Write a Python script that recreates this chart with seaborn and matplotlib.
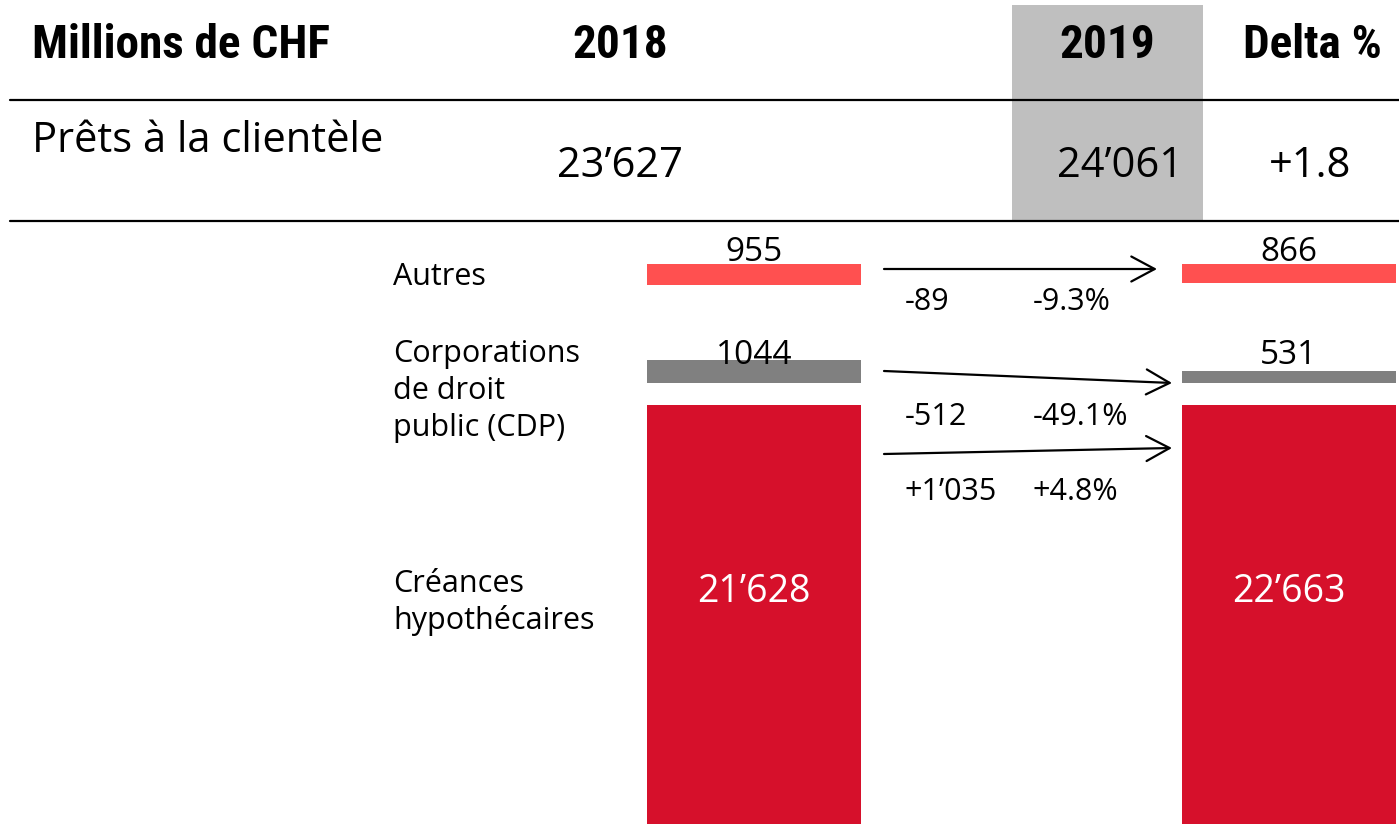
import matplotlib
matplotlib.use("Agg")
import matplotlib.pyplot as plt
import matplotlib.patches as mpatches
from matplotlib.lines import Line2D
import pandas as pd
import seaborn as sns

# --- DATA ---
years = ["2018", "2019"]
total_loans = [23627, 24061]
total_delta_pct = 1.8
segment_labels = ["Autres", "Corporations\nde droit\npublic (CDP)", "Créances\nhypothécaires"]
autres = [955, 866]
cdp = [1044, 531]
hypo = [21628, 22663]
delta_abs = [-89, -512, 1035]
delta_pct = [-9.3, -49.1, 4.8]

# --- COLOURS & FONTS ---
c_autres = "#FF5050"
c_cdp = "#808080"
c_hypo = "#D6102B"
c_head = "#BFBFBF"

sns.set_theme(style="white")
plt.rcParams["font.family"] = ["Open Sans", "DejaVu Sans"]
plt.rcParams["text.color"] = "black"
HEAD_FONT = ["Roboto Condensed", "Liberation Sans", "DejaVu Sans"]


def fmt(v, sep=True, sign=False):
    s = f"{v:+,}" if sign else f"{v:,}"
    return s.replace(",", "\u2019") if sep else s.replace(",", "")


# --- FIGURE (pixel helpers) ---
W, H = 1399, 824
fig = plt.figure(figsize=(W / 100, H / 100), dpi=100)


def fx(p):
    return p / W


def fy(p):
    return 1 - p / H


# table header block
fig.add_artist(mpatches.Rectangle((fx(1012), fy(221)), fx(1203) - fx(1012), fy(5) - fy(221),
                                  transform=fig.transFigure, facecolor=c_head, edgecolor="none", zorder=0))
for yl in [100, 221]:
    fig.add_artist(Line2D([fx(10), 1], [fy(yl), fy(yl)], transform=fig.transFigure, color="black", lw=1.6))

head_kw = dict(family=HEAD_FONT, fontweight="bold", fontsize=34, va="baseline")
fig.text(fx(32), fy(58), "Millions de CHF", ha="left", **head_kw)
fig.text(fx(620), fy(58), years[0], ha="center", **head_kw)
fig.text(fx(1107), fy(58), years[1], ha="center", **head_kw)
fig.text(fx(1312), fy(58), "Delta %", ha="center", **head_kw)

fig.text(fx(32), fy(152), "Prêts à la clientèle", ha="left", va="baseline", fontsize=30)
fig.text(fx(620), fy(177), fmt(total_loans[0]), ha="center", va="baseline", fontsize=30)
fig.text(fx(1120), fy(177), fmt(total_loans[1]), ha="center", va="baseline", fontsize=30)
fig.text(fx(1310), fy(177), f"{total_delta_pct:+.1f}", ha="center", va="baseline", fontsize=30)

# --- LOWER PANEL: stacked segments with gaps ---
ax = fig.add_axes([0, 0, 1, fy(221)])
ax.set_facecolor("none")

K = 45  # CHF per pixel


def dy(p):
    return (p - 221) * K


def dx(p):
    return (p - 754) / 535


df = pd.DataFrame({"year": years, "autres": autres, "cdp": cdp, "hypo": hypo})
bar_kw = dict(width=0.4, saturation=1, linewidth=0, errorbar=None, ax=ax)
sns.barplot(data=df, x="year", y="autres", bottom=dy(264), color=c_autres, **bar_kw)
sns.barplot(data=df, x="year", y="cdp", bottom=[dy(383) - v for v in cdp], color=c_cdp, **bar_kw)
sns.barplot(data=df, x="year", y="hypo", bottom=dy(405), color=c_hypo, **bar_kw)

ax.set_xlim(dx(0), dx(W))
ax.set_ylim(dy(H), 0)
ax.axis("off")

# value labels
for i in range(2):
    ax.text(i, dy(261), fmt(autres[i], sep=False), ha="center", va="baseline", fontsize=24)
    ax.text(i, dy(364), fmt(cdp[i], sep=False), ha="center", va="baseline", fontsize=24)
    ax.text(i, dy(602), fmt(hypo[i]), ha="center", va="baseline", fontsize=27, color="white")

# segment names on the left
label_base = [dy(285), dy(362), dy(592)]
for lab, yb in zip(segment_labels, label_base):
    for j, line in enumerate(lab.split("\n")):
        ax.text(dx(393), yb + j * 37 * K, line, ha="left", va="baseline", fontsize=22)

# arrows and changes
arrows = [((884, 269), (1157, 269)), ((884, 371), (1172, 383)), ((884, 454), (1172, 448))]
for (p0, p1) in arrows:
    ax.annotate("", xy=(dx(p1[0]), dy(p1[1])), xytext=(dx(p0[0]), dy(p0[1])),
                arrowprops=dict(arrowstyle="->,head_length=1.4,head_width=0.75", lw=1.6,
                                color="black", shrinkA=0, shrinkB=0))

delta_base = [dy(310), dy(425), dy(500)]
for a, p, yb in zip(delta_abs, delta_pct, delta_base):
    ax.text(dx(905), yb, fmt(a, sign=True), ha="left", va="baseline", fontsize=22)
    ax.text(dx(1033), yb, f"{p:+.1f}%", ha="left", va="baseline", fontsize=22)

fig.savefig("out.png", dpi=100)
